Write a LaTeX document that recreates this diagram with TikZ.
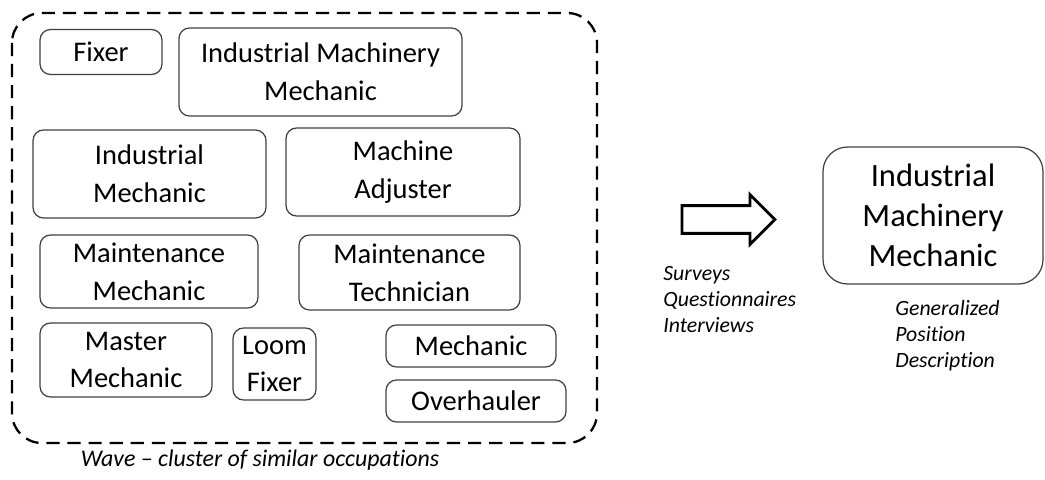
\documentclass[tikz,border=0pt]{standalone}
\usepackage{fontspec}
\setmainfont{Carlito}[Ligatures=NoCommon]
\usetikzlibrary{shapes.arrows}

\tikzset{
  job/.style={draw=black!75, line width=0.7pt, rounded corners=6pt, align=center,
    inner sep=0pt, font=\fontsize{16.2}{21.5}\selectfont},
  note/.style={align=left, inner sep=0pt, font=\fontsize{12.4}{14.7}\selectfont\itshape},
  wave/.style={draw, line width=1.3pt, dash pattern=on 7.5pt off 4.5pt, rounded corners=17pt}
}

\begin{document}
\begin{tikzpicture}[x=0.02cm, y=-0.02cm]
    \useasboundingbox (0,0) rectangle (1045,480);

    % the wave of similar occupations
    \draw[wave] (12,13) rectangle (597,443);

    \node[job, minimum width=122*0.02cm, minimum height=45*0.02cm] (fixer) at (101,52) {Fixer};
    \node[job, minimum width=283*0.02cm, minimum height=88*0.02cm] (imm) at (320.5,72) {Industrial Machinery\\Mechanic};
    \node[job, minimum width=233*0.02cm, minimum height=88*0.02cm] (indmech) at (149.5,174) {Industrial\\Mechanic};
    \node[job, minimum width=234*0.02cm, minimum height=88*0.02cm] (adjuster) at (403,172) {Machine\\Adjuster};
    \node[job, minimum width=218*0.02cm, minimum height=73*0.02cm] (maintmech) at (149,271.5) {Maintenance\\Mechanic};
    \node[job, minimum width=221*0.02cm, minimum height=75*0.02cm] (mainttech) at (409.5,272.5) {Maintenance\\Technician};
    \node[job, minimum width=172*0.02cm, minimum height=74*0.02cm] (master) at (126,360) {Master\\Mechanic};
    \node[job, minimum width=83*0.02cm, minimum height=72*0.02cm] (loom) at (274.5,364) {Loom\\Fixer};
    \node[job, minimum width=170*0.02cm, minimum height=42*0.02cm] (mechanic) at (471,346) {Mechanic};
    \node[job, minimum width=180*0.02cm, minimum height=42*0.02cm] (overhauler) at (476,401) {Overhauler};

    \node[note, font=\fontsize{13.6}{14.7}\selectfont\itshape] (wavelabel) at (260,460) {Wave -- cluster of similar occupations};

    % gathering the data
    \node[single arrow, draw, line width=1.6pt, inner sep=0pt, minimum height=1.86cm,
          minimum width=0.94cm, single arrow head extend=0.22cm] (collect) at (721.5,219.5) {\rule{0pt}{0.5cm}};
    \node[note, anchor=north west] (methods) at (663,266) {Surveys\\Questionnaires\\Interviews};

    % the result
    \node[job, rounded corners=14pt, minimum width=220*0.02cm, minimum height=137*0.02cm,
          font=\fontsize{18.5}{22.7}\selectfont] (general) at (933,215.5) {Industrial\\Machinery\\Mechanic};
    \node[note, anchor=north west] (gpd) at (895,300) {Generalized\\Position\\Description};
\end{tikzpicture}
\end{document}
